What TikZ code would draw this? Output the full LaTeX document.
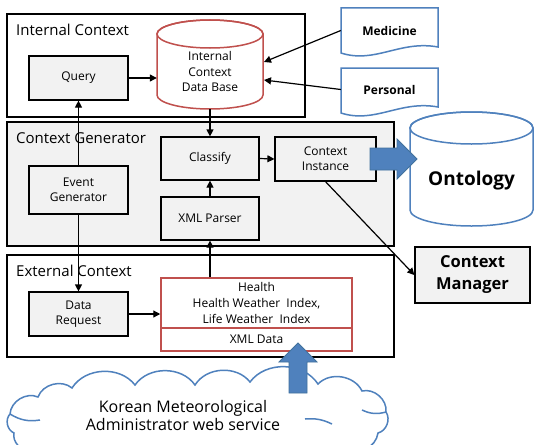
\documentclass[tikz,border=0pt]{standalone}
\usepackage{fontspec}
\setmainfont{Open Sans}
\usetikzlibrary{arrows.meta}
\definecolor{offblue}{HTML}{4F81BD}
\definecolor{offbluedk}{HTML}{41719C}
\definecolor{offred}{HTML}{C0504D}
\definecolor{lgray}{HTML}{F2F2F2}
\begin{document}
\begin{tikzpicture}[x=1pt,y=-1pt,
  box/.style={draw, line width=1.2pt, fill=lgray, align=center, inner sep=0pt,
    font=\fontsize{12}{15}\selectfont},
  container/.style={draw, line width=1.2pt, inner sep=0pt},
  title/.style={anchor=base west, inner sep=0pt, font=\fontsize{15}{17}\selectfont},
  redbox/.style={draw=offred, line width=1.5pt, fill=white, align=center, inner sep=0pt,
    font=\fontsize{12}{16}\selectfont},
  arr/.style={line width=1.2pt, -{Triangle[length=7pt,width=7pt]}},
  fat/.style={fill=offblue, draw=offbluedk, line width=0.8pt},
  doc/.style={draw=offblue, line width=1.5pt, fill=white},
  plain/.style={inner sep=0pt, align=center},
  puff/.style={bend left=55},
]
\clip (0,0) rectangle (534,444);
\fill[white] (0,0) rectangle (534,444);

% containers
\node[container, minimum width=298pt, minimum height=103pt] (ic) at (156,65.5) {};
\node[container, fill=lgray, minimum width=387pt, minimum height=124pt] (cg) at (200.5,184) {};
\node[container, fill=white, minimum width=387pt, minimum height=102pt] (ec) at (200.5,306) {};
\node[title] (ictitle) at (16,35) {Internal Context};
\node[title] (cgtitle) at (16,143) {Context Generator};
\node[title] (ectitle) at (16,276) {External Context};

% internal DB cylinder
\draw[offred, line width=1.5pt, fill=white] (157,34) -- (157,95)
  arc[start angle=180, end angle=360, x radius=53pt, y radius=14pt] -- (263,34)
  arc[start angle=0, end angle=180, x radius=53pt, y radius=14pt] -- cycle;
\draw[offred, line width=1.5pt] (210,34) ellipse[x radius=53pt, y radius=14pt];
\node[plain, minimum width=106pt, minimum height=75pt, font=\fontsize{12}{15.5}\selectfont] (db) at (210,71.5) {Internal\\Context\\Data Base};
\coordinate (dbm) at (264,62);
\coordinate (dbp) at (264,80);

% documents
\draw[doc] (341,8) -- (438,8) -- (438,47) .. controls (400,40) and (375,64) .. (341,53) -- cycle;
\draw[doc] (341,68) -- (438,68) -- (438,107) .. controls (400,100) and (375,124) .. (341,113) -- cycle;
\node[plain, minimum width=97pt, minimum height=45pt, font=\bfseries\fontsize{12}{13}\selectfont] (med) at (389.5,30.5) {Medicine};
\node[plain, minimum width=97pt, minimum height=43pt, font=\bfseries\fontsize{12}{13}\selectfont] (pers) at (389.5,89.5) {Personal};

% ontology cylinder
\draw[offblue, line width=1.5pt, fill=white] (410,128) -- (410,210)
  arc[start angle=180, end angle=360, x radius=61.5pt, y radius=16pt] -- (533,128)
  arc[start angle=0, end angle=180, x radius=61.5pt, y radius=16pt] -- cycle;
\draw[offblue, line width=1.5pt] (471.5,128) ellipse[x radius=61.5pt, y radius=16pt];
\node[plain, font=\bfseries\fontsize{19}{22}\selectfont] (ont) at (471.5,181) {Ontology};

% boxes
\node[box, minimum width=99pt, minimum height=44pt] (query) at (78.5,78) {Query};
\node[box, minimum width=98pt, minimum height=43pt] (classify) at (210,158.5) {Classify};
\node[box, minimum width=101pt, minimum height=44pt] (ci) at (325.5,159) {Context\\Instance};
\node[box, minimum width=99pt, minimum height=48pt] (eg) at (78.5,190) {Event\\Generator};
\node[box, minimum width=98pt, minimum height=43pt] (xmlp) at (210,218.5) {XML Parser};
\node[box, minimum width=99pt, minimum height=44pt] (dr) at (78.5,314) {Data\\Request};
\node[redbox, minimum width=191pt, minimum height=50pt] (health) at (256.5,303) {Health\\Health Weather~ Index,\\Life Weather~ Index};
\node[redbox, minimum width=191pt, minimum height=23pt] (xmld) at (256.5,339.5) {XML Data};
\node[box, minimum width=115pt, minimum height=56pt, font=\bfseries\fontsize{16.5}{22}\selectfont] (cm) at (472.5,275) {Context\\Manager};

% cloud (drawn as a shape)
\draw[offblue, line width=1.5pt, fill=white]
  (30,450) to[puff] (14,433) to[puff] (10,414) to[puff] (38,397) to[puff] (72,388)
  to[puff] (135,385) to[puff] (195,385) to[puff] (250,382) to[puff] (318,384)
  to[puff] (362,391) to[puff] (386,412) to[puff] (378,433) to[puff] (345,450) -- cycle;
\draw[offblue, line width=1.5pt] (10,414) to[bend right=20] (40,420);
\draw[offblue, line width=1.5pt] (386,412) to[bend left=20] (362,410);
\draw[offblue, line width=1.5pt] (305,419) to[bend left=15] (332,424);
\node[plain, font=\fontsize{16}{18}\selectfont] (kmatext) at (183,415) {Korean Meteorological\\Administrator web service};

% connectors
\draw[arr] (query.east) -- (query.east -| db.west);
\draw[arr] (med.west) -- (dbm);
\draw[arr] (pers.west) -- (dbp);
\draw[arr] (db.south) -- (classify.north);
\draw[arr] (xmlp.north) -- (classify.south);
\draw[arr] (health.north -| xmlp.south) -- (xmlp.south);
\draw[arr] (classify.east) -- (ci.west);
\draw[arr] (eg.north) -- (query.south);
\draw[arr] (eg.south) -- (dr.north);
\draw[arr] (dr.east) -- (dr.east -| health.west);
\draw[arr] (ci.south) -- (cm.west);

% fat arrows
\draw[fat] (370,148) -- (397,148) -- (397,139) -- (417,159) -- (397,179) -- (397,170) -- (370,170) -- cycle;
\draw[fat] (289,393) -- (289,362) -- (279,362) -- (298,343) -- (317,362) -- (307,362) -- (307,393) -- cycle;
\end{tikzpicture}
\end{document}
